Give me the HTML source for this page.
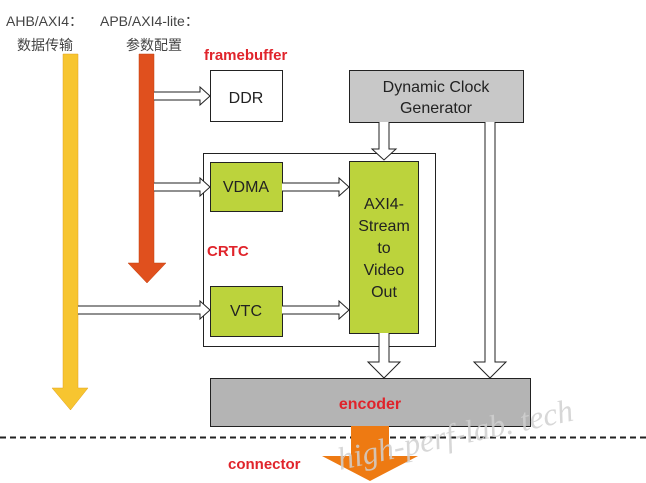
<!DOCTYPE html>
<html><head><meta charset="utf-8"><style>
html,body{margin:0;padding:0;background:#fff;}
svg{display:block;}
text{font-family:"Liberation Sans","Noto Sans CJK SC",sans-serif;}
</style></head><body>
<svg width="646" height="483" viewBox="0 0 646 483" xmlns="http://www.w3.org/2000/svg">
<rect width="646" height="483" fill="#fff"/>
<text x="6" y="26" font-size="14" fill="#444">AHB/AXI4：</text>
<text x="17" y="50" font-size="14" fill="#444">数据传输</text>
<text x="100" y="26" font-size="14" fill="#444">APB/AXI4-lite：</text>
<text x="126" y="50" font-size="14" fill="#444">参数配置</text>
<text x="204" y="60" font-size="15" font-weight="bold" fill="#e0242b">framebuffer</text>
<path d="M63,54 H78 V388 H88 L70.5,410 L52,388 H63 Z" fill="#f7c530" stroke="#e0a020" stroke-width="0.5"/>
<path d="M139,54 H154 V263 H166 L147,283 L128,263 H139 Z" fill="#e0501e" stroke="#c04010" stroke-width="0.5"/>
<rect x="210.5" y="70.5" width="72" height="51" fill="#fff" stroke="#222"/>
<text x="246" y="103" font-size="16" text-anchor="middle" fill="#222">DDR</text>
<rect x="349.5" y="70.5" width="174" height="52" fill="#c8c8c8" stroke="#222"/>
<text x="436" y="92" font-size="16" text-anchor="middle" fill="#222">Dynamic  Clock</text>
<text x="436" y="113" font-size="16" text-anchor="middle" fill="#222">Generator</text>
<rect x="203.5" y="153.5" width="232" height="193" fill="none" stroke="#222"/>
<text x="207" y="256" font-size="15" font-weight="bold" fill="#e0242b">CRTC</text>
<rect x="210.5" y="162.5" width="72" height="49" fill="#bcd33c" stroke="#222"/>
<text x="246" y="192" font-size="16" text-anchor="middle" fill="#222">VDMA</text>
<rect x="210.5" y="286.5" width="72" height="50" fill="#bcd33c" stroke="#222"/>
<text x="246" y="316" font-size="16" text-anchor="middle" fill="#222">VTC</text>
<rect x="349.5" y="161.5" width="69" height="172" fill="#bcd33c" stroke="#222"/>
<g font-size="16" text-anchor="middle" fill="#222">
<text x="384" y="209">AXI4-</text><text x="384" y="231">Stream</text><text x="384" y="253">to</text><text x="384" y="275">Video</text><text x="384" y="297">Out</text></g>
<rect x="210.5" y="378.5" width="320" height="48" fill="#b4b4b4" stroke="#222"/>
<text x="370" y="409" font-size="16" font-weight="bold" text-anchor="middle" fill="#e0242b">encoder</text>
<g fill="#fff" stroke="#222" stroke-width="1">
<path d="M154,92 H200 V87 L210,96 L200,105 V100 H154"/>
<path d="M154,183 H200 V178 L210,187 L200,196 V191 H154"/>
<path d="M78,306 H200 V301 L210,310 L200,319 V314 H78"/>
<path d="M282,183 H339 V178 L349,187 L339,196 V191 H282"/>
<path d="M282,306 H339 V301 L349,310 L339,319 V314 H282"/>
<path d="M379,122 V149 H372 L384,160 L396,149 H389 V122"/>
<path d="M379,333 V362 H368 L384,378 L400,362 H389 V333"/>
<path d="M485,122 V362 H474 L490,378 L506,362 H495 V122"/>
</g>
<line x1="0" y1="437.5" x2="646" y2="437.5" stroke="#222" stroke-width="2" stroke-dasharray="6,4"/>
<path d="M351,426 H389 V456 H418 L370,481 L322,456 H351 Z" fill="#ee7a12"/>
<text x="228" y="469" font-size="15" font-weight="bold" fill="#e0242b">connector</text>
<text x="340" y="470" font-size="32" style="font-family:'Liberation Serif',serif;font-style:italic" fill="#d0d0d0" fill-opacity="0.85" transform="rotate(-12 340 470)">high-perf-lab. tech</text>
</svg>
</body></html>
